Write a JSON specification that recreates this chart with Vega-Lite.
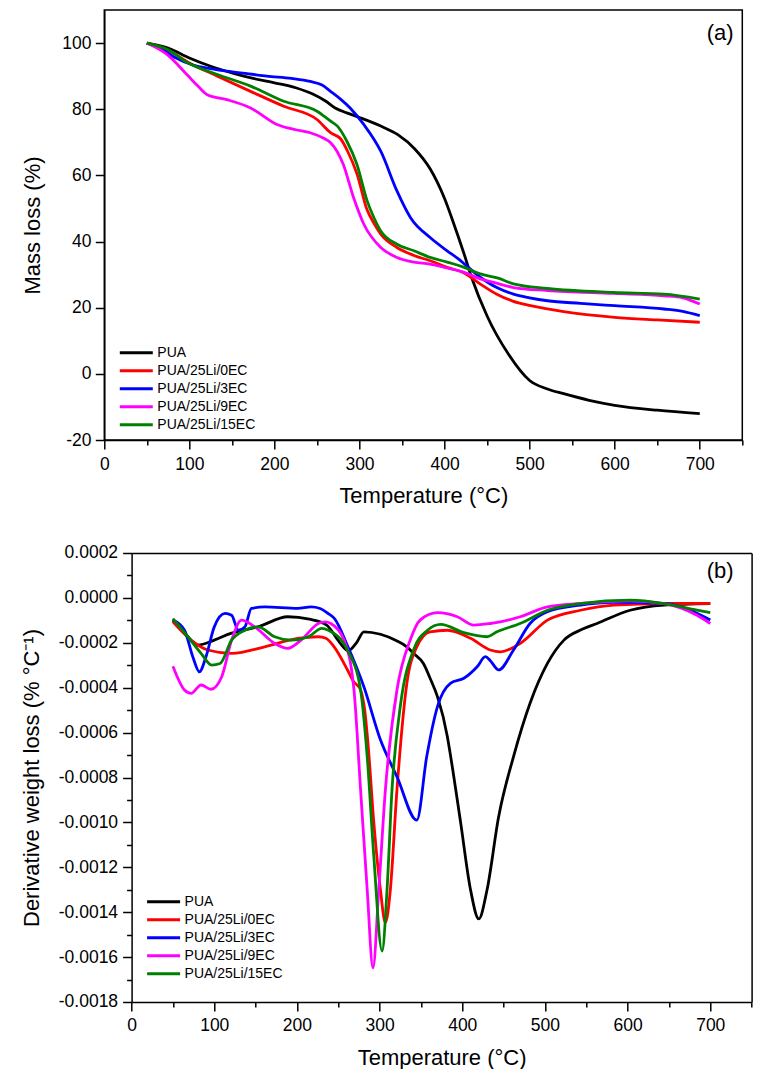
{
"$schema": "https://vega.github.io/schema/vega-lite/v6.json",
"background": "white",
"padding": {"left": 19.3, "top": 9, "right": 8, "bottom": 0},
"config": {
  "font": "Liberation Sans",
  "view": {"stroke": "#000", "strokeWidth": 1.5},
  "axis": {"grid": false, "domainColor": "#000", "domainWidth": 1.5, "tickColor": "#000", "tickWidth": 1.5, "labelColor": "#000", "titleColor": "#000", "labelFontSize": 17.5, "titleFontSize": 22, "titleFontWeight": "normal", "labelFont": "Liberation Sans", "titleFont": "Liberation Sans", "labelOverlap": false, "labelFlush": false}
},
"datasets": {
"tga": [
{"s":"PUA","T":50,"m":100},{"s":"PUA","T":75,"m":98.5},{"s":"PUA","T":100,"m":95.5},{"s":"PUA","T":125,"m":93},{"s":"PUA","T":150,"m":91},{"s":"PUA","T":175,"m":89.3},{"s":"PUA","T":200,"m":88},{"s":"PUA","T":225,"m":86.5},{"s":"PUA","T":245,"m":84.6},{"s":"PUA","T":260,"m":82.5},{"s":"PUA","T":272,"m":80.3},{"s":"PUA","T":285,"m":78.9},{"s":"PUA","T":300,"m":77.5},{"s":"PUA","T":325,"m":74.9},{"s":"PUA","T":345,"m":72.3},{"s":"PUA","T":365,"m":68},{"s":"PUA","T":383,"m":62},{"s":"PUA","T":400,"m":53},{"s":"PUA","T":410,"m":46},{"s":"PUA","T":422,"m":37},{"s":"PUA","T":432,"m":29},{"s":"PUA","T":450,"m":17.5},{"s":"PUA","T":475,"m":6},{"s":"PUA","T":500,"m":-2},{"s":"PUA","T":520,"m":-4.5},{"s":"PUA","T":540,"m":-6},{"s":"PUA","T":570,"m":-8},{"s":"PUA","T":600,"m":-9.5},{"s":"PUA","T":650,"m":-11},{"s":"PUA","T":700,"m":-12},
{"s":"PUA/25Li/0EC","T":50,"m":100},{"s":"PUA/25Li/0EC","T":75,"m":97.8},{"s":"PUA/25Li/0EC","T":100,"m":94},{"s":"PUA/25Li/0EC","T":133,"m":90},{"s":"PUA/25Li/0EC","T":172,"m":85.4},{"s":"PUA/25Li/0EC","T":211,"m":80.9},{"s":"PUA/25Li/0EC","T":250,"m":76.9},{"s":"PUA/25Li/0EC","T":266,"m":72.9},{"s":"PUA/25Li/0EC","T":278,"m":71},{"s":"PUA/25Li/0EC","T":286,"m":67.3},{"s":"PUA/25Li/0EC","T":297,"m":60.5},{"s":"PUA/25Li/0EC","T":309,"m":49.5},{"s":"PUA/25Li/0EC","T":317,"m":45.5},{"s":"PUA/25Li/0EC","T":325,"m":42.2},{"s":"PUA/25Li/0EC","T":344,"m":38.2},{"s":"PUA/25Li/0EC","T":364,"m":35.8},{"s":"PUA/25Li/0EC","T":383,"m":34.2},{"s":"PUA/25Li/0EC","T":403,"m":32.2},{"s":"PUA/25Li/0EC","T":423,"m":30.5},{"s":"PUA/25Li/0EC","T":440,"m":27.5},{"s":"PUA/25Li/0EC","T":462,"m":24},{"s":"PUA/25Li/0EC","T":480,"m":22},{"s":"PUA/25Li/0EC","T":501,"m":20.6},{"s":"PUA/25Li/0EC","T":540,"m":18.8},{"s":"PUA/25Li/0EC","T":600,"m":17.1},{"s":"PUA/25Li/0EC","T":650,"m":16.3},{"s":"PUA/25Li/0EC","T":700,"m":15.6},
{"s":"PUA/25Li/3EC","T":50,"m":100},{"s":"PUA/25Li/3EC","T":65,"m":98.5},{"s":"PUA/25Li/3EC","T":82,"m":95.8},{"s":"PUA/25Li/3EC","T":105,"m":93.3},{"s":"PUA/25Li/3EC","T":125,"m":92.3},{"s":"PUA/25Li/3EC","T":144,"m":91.5},{"s":"PUA/25Li/3EC","T":170,"m":90.7},{"s":"PUA/25Li/3EC","T":191,"m":90},{"s":"PUA/25Li/3EC","T":220,"m":89.3},{"s":"PUA/25Li/3EC","T":242,"m":88.4},{"s":"PUA/25Li/3EC","T":256,"m":87.3},{"s":"PUA/25Li/3EC","T":266,"m":85.4},{"s":"PUA/25Li/3EC","T":278,"m":83},{"s":"PUA/25Li/3EC","T":289,"m":80.4},{"s":"PUA/25Li/3EC","T":305,"m":75.4},{"s":"PUA/25Li/3EC","T":325,"m":67.3},{"s":"PUA/25Li/3EC","T":344,"m":55.3},{"s":"PUA/25Li/3EC","T":360,"m":47.2},{"s":"PUA/25Li/3EC","T":383,"m":41.2},{"s":"PUA/25Li/3EC","T":403,"m":37.2},{"s":"PUA/25Li/3EC","T":415,"m":35},{"s":"PUA/25Li/3EC","T":442,"m":29.2},{"s":"PUA/25Li/3EC","T":462,"m":26},{"s":"PUA/25Li/3EC","T":481,"m":24.1},{"s":"PUA/25Li/3EC","T":500,"m":23},{"s":"PUA/25Li/3EC","T":521,"m":22.1},{"s":"PUA/25Li/3EC","T":560,"m":21.3},{"s":"PUA/25Li/3EC","T":600,"m":20.6},{"s":"PUA/25Li/3EC","T":658,"m":19.6},{"s":"PUA/25Li/3EC","T":680,"m":18.9},{"s":"PUA/25Li/3EC","T":700,"m":17.6},
{"s":"PUA/25Li/9EC","T":50,"m":100},{"s":"PUA/25Li/9EC","T":74,"m":96.5},{"s":"PUA/25Li/9EC","T":97,"m":90.5},{"s":"PUA/25Li/9EC","T":110,"m":87},{"s":"PUA/25Li/9EC","T":121,"m":84.4},{"s":"PUA/25Li/9EC","T":144,"m":82.9},{"s":"PUA/25Li/9EC","T":172,"m":80.4},{"s":"PUA/25Li/9EC","T":203,"m":75.4},{"s":"PUA/25Li/9EC","T":225,"m":73.8},{"s":"PUA/25Li/9EC","T":242,"m":72.9},{"s":"PUA/25Li/9EC","T":258,"m":71.2},{"s":"PUA/25Li/9EC","T":266,"m":69.9},{"s":"PUA/25Li/9EC","T":281,"m":63.3},{"s":"PUA/25Li/9EC","T":293,"m":53.3},{"s":"PUA/25Li/9EC","T":305,"m":45.3},{"s":"PUA/25Li/9EC","T":325,"m":38.2},{"s":"PUA/25Li/9EC","T":344,"m":35.2},{"s":"PUA/25Li/9EC","T":364,"m":33.8},{"s":"PUA/25Li/9EC","T":383,"m":33.2},{"s":"PUA/25Li/9EC","T":403,"m":32},{"s":"PUA/25Li/9EC","T":423,"m":30.7},{"s":"PUA/25Li/9EC","T":442,"m":28.7},{"s":"PUA/25Li/9EC","T":460,"m":27.5},{"s":"PUA/25Li/9EC","T":481,"m":26.1},{"s":"PUA/25Li/9EC","T":521,"m":25.2},{"s":"PUA/25Li/9EC","T":599,"m":24.3},{"s":"PUA/25Li/9EC","T":658,"m":23.6},{"s":"PUA/25Li/9EC","T":680,"m":23},{"s":"PUA/25Li/9EC","T":700,"m":21.1},
{"s":"PUA/25Li/15EC","T":50,"m":100},{"s":"PUA/25Li/15EC","T":75,"m":98},{"s":"PUA/25Li/15EC","T":97,"m":94.2},{"s":"PUA/25Li/15EC","T":133,"m":90.5},{"s":"PUA/25Li/15EC","T":172,"m":87},{"s":"PUA/25Li/15EC","T":211,"m":82.4},{"s":"PUA/25Li/15EC","T":250,"m":79.4},{"s":"PUA/25Li/15EC","T":266,"m":76.4},{"s":"PUA/25Li/15EC","T":274,"m":74.9},{"s":"PUA/25Li/15EC","T":285,"m":70.4},{"s":"PUA/25Li/15EC","T":297,"m":63.3},{"s":"PUA/25Li/15EC","T":309,"m":52.3},{"s":"PUA/25Li/15EC","T":317,"m":47.2},{"s":"PUA/25Li/15EC","T":325,"m":43.2},{"s":"PUA/25Li/15EC","T":344,"m":39.2},{"s":"PUA/25Li/15EC","T":364,"m":37.2},{"s":"PUA/25Li/15EC","T":383,"m":35.2},{"s":"PUA/25Li/15EC","T":403,"m":33.8},{"s":"PUA/25Li/15EC","T":423,"m":32.2},{"s":"PUA/25Li/15EC","T":442,"m":30.2},{"s":"PUA/25Li/15EC","T":462,"m":29},{"s":"PUA/25Li/15EC","T":481,"m":27.2},{"s":"PUA/25Li/15EC","T":521,"m":25.8},{"s":"PUA/25Li/15EC","T":599,"m":24.6},{"s":"PUA/25Li/15EC","T":658,"m":24.1},{"s":"PUA/25Li/15EC","T":700,"m":22.6}
],
"dtg": [
{"s":"PUA","T":50,"d":-0.000099},{"s":"PUA","T":65,"d":-0.00016},{"s":"PUA","T":80,"d":-0.00021},{"s":"PUA","T":100,"d":-0.000188},{"s":"PUA","T":120,"d":-0.000158},{"s":"PUA","T":153,"d":-0.000129},{"s":"PUA","T":189,"d":-0.000084},{"s":"PUA","T":215,"d":-0.000095},{"s":"PUA","T":236,"d":-0.000121},{"s":"PUA","T":250,"d":-0.00019},{"s":"PUA","T":262,"d":-0.000235},{"s":"PUA","T":272,"d":-0.0002},{"s":"PUA","T":281,"d":-0.000151},{"s":"PUA","T":301,"d":-0.000162},{"s":"PUA","T":320,"d":-0.00019},{"s":"PUA","T":333,"d":-0.000218},{"s":"PUA","T":341,"d":-0.000247},{"s":"PUA","T":353,"d":-0.000292},{"s":"PUA","T":362,"d":-0.000366},{"s":"PUA","T":370,"d":-0.00044},{"s":"PUA","T":382,"d":-0.000618},{"s":"PUA","T":386,"d":-0.000707},{"s":"PUA","T":398,"d":-0.001},{"s":"PUA","T":410,"d":-0.0013},{"s":"PUA","T":420,"d":-0.00143},{"s":"PUA","T":430,"d":-0.0013},{"s":"PUA","T":444,"d":-0.000975},{"s":"PUA","T":462,"d":-0.000707},{"s":"PUA","T":482,"d":-0.000469},{"s":"PUA","T":503,"d":-0.000292},{"s":"PUA","T":523,"d":-0.000188},{"s":"PUA","T":545,"d":-0.00014},{"s":"PUA","T":563,"d":-0.000114},{"s":"PUA","T":603,"d":-0.000055},{"s":"PUA","T":644,"d":-0.000032},{"s":"PUA","T":700,"d":-0.000025},
{"s":"PUA/25Li/0EC","T":50,"d":-0.000107},{"s":"PUA/25Li/0EC","T":72,"d":-0.000188},{"s":"PUA/25Li/0EC","T":92,"d":-0.000232},{"s":"PUA/25Li/0EC","T":121,"d":-0.000247},{"s":"PUA/25Li/0EC","T":161,"d":-0.000218},{"s":"PUA/25Li/0EC","T":201,"d":-0.00018},{"s":"PUA/25Li/0EC","T":226,"d":-0.000173},{"s":"PUA/25Li/0EC","T":235,"d":-0.00018},{"s":"PUA/25Li/0EC","T":245,"d":-0.000218},{"s":"PUA/25Li/0EC","T":261,"d":-0.00032},{"s":"PUA/25Li/0EC","T":268,"d":-0.00037},{"s":"PUA/25Li/0EC","T":277,"d":-0.00041},{"s":"PUA/25Li/0EC","T":282,"d":-0.0005},{"s":"PUA/25Li/0EC","T":286,"d":-0.00065},{"s":"PUA/25Li/0EC","T":293,"d":-0.001},{"s":"PUA/25Li/0EC","T":301,"d":-0.0013},{"s":"PUA/25Li/0EC","T":307,"d":-0.001447},{"s":"PUA/25Li/0EC","T":313,"d":-0.0013},{"s":"PUA/25Li/0EC","T":321,"d":-0.000855},{"s":"PUA/25Li/0EC","T":333,"d":-0.00038},{"s":"PUA/25Li/0EC","T":345,"d":-0.000218},{"s":"PUA/25Li/0EC","T":361,"d":-0.000151},{"s":"PUA/25Li/0EC","T":382,"d":-0.000144},{"s":"PUA/25Li/0EC","T":410,"d":-0.00018},{"s":"PUA/25Li/0EC","T":434,"d":-0.000232},{"s":"PUA/25Li/0EC","T":446,"d":-0.00024},{"s":"PUA/25Li/0EC","T":470,"d":-0.000203},{"s":"PUA/25Li/0EC","T":503,"d":-0.000099},{"s":"PUA/25Li/0EC","T":543,"d":-0.000055},{"s":"PUA/25Li/0EC","T":583,"d":-0.000032},{"s":"PUA/25Li/0EC","T":644,"d":-0.000025},{"s":"PUA/25Li/0EC","T":700,"d":-0.000025},
{"s":"PUA/25Li/3EC","T":50,"d":-0.000099},{"s":"PUA/25Li/3EC","T":64,"d":-0.000144},{"s":"PUA/25Li/3EC","T":74,"d":-0.000262},{"s":"PUA/25Li/3EC","T":82,"d":-0.000329},{"s":"PUA/25Li/3EC","T":90,"d":-0.000262},{"s":"PUA/25Li/3EC","T":100,"d":-0.000129},{"s":"PUA/25Li/3EC","T":113,"d":-0.000069},{"s":"PUA/25Li/3EC","T":121,"d":-0.000077},{"s":"PUA/25Li/3EC","T":129,"d":-0.000144},{"s":"PUA/25Li/3EC","T":137,"d":-0.000129},{"s":"PUA/25Li/3EC","T":145,"d":-0.000047},{"s":"PUA/25Li/3EC","T":161,"d":-0.00004},{"s":"PUA/25Li/3EC","T":201,"d":-0.000047},{"s":"PUA/25Li/3EC","T":217,"d":-0.00004},{"s":"PUA/25Li/3EC","T":228,"d":-0.000047},{"s":"PUA/25Li/3EC","T":238,"d":-0.00007},{"s":"PUA/25Li/3EC","T":245,"d":-0.00009},{"s":"PUA/25Li/3EC","T":262,"d":-0.00022},{"s":"PUA/25Li/3EC","T":281,"d":-0.000396},{"s":"PUA/25Li/3EC","T":301,"d":-0.000632},{"s":"PUA/25Li/3EC","T":321,"d":-0.000796},{"s":"PUA/25Li/3EC","T":345,"d":-0.00099},{"s":"PUA/25Li/3EC","T":357,"d":-0.000707},{"s":"PUA/25Li/3EC","T":370,"d":-0.000484},{"s":"PUA/25Li/3EC","T":386,"d":-0.00038},{"s":"PUA/25Li/3EC","T":402,"d":-0.000358},{"s":"PUA/25Li/3EC","T":418,"d":-0.000307},{"s":"PUA/25Li/3EC","T":428,"d":-0.000262},{"s":"PUA/25Li/3EC","T":434,"d":-0.00028},{"s":"PUA/25Li/3EC","T":444,"d":-0.000321},{"s":"PUA/25Li/3EC","T":462,"d":-0.000232},{"s":"PUA/25Li/3EC","T":482,"d":-0.000114},{"s":"PUA/25Li/3EC","T":503,"d":-0.000062},{"s":"PUA/25Li/3EC","T":543,"d":-0.000032},{"s":"PUA/25Li/3EC","T":583,"d":-0.00002},{"s":"PUA/25Li/3EC","T":644,"d":-0.000025},{"s":"PUA/25Li/3EC","T":684,"d":-0.000069},{"s":"PUA/25Li/3EC","T":700,"d":-0.000099},
{"s":"PUA/25Li/9EC","T":50,"d":-0.000304},{"s":"PUA/25Li/9EC","T":64,"d":-0.00041},{"s":"PUA/25Li/9EC","T":72,"d":-0.000425},{"s":"PUA/25Li/9EC","T":84,"d":-0.000388},{"s":"PUA/25Li/9EC","T":96,"d":-0.000407},{"s":"PUA/25Li/9EC","T":109,"d":-0.000351},{"s":"PUA/25Li/9EC","T":121,"d":-0.000188},{"s":"PUA/25Li/9EC","T":133,"d":-0.000099},{"s":"PUA/25Li/9EC","T":149,"d":-0.000129},{"s":"PUA/25Li/9EC","T":173,"d":-0.000203},{"s":"PUA/25Li/9EC","T":189,"d":-0.000225},{"s":"PUA/25Li/9EC","T":205,"d":-0.000188},{"s":"PUA/25Li/9EC","T":226,"d":-0.000114},{"s":"PUA/25Li/9EC","T":234,"d":-0.000107},{"s":"PUA/25Li/9EC","T":241,"d":-0.000114},{"s":"PUA/25Li/9EC","T":257,"d":-0.000188},{"s":"PUA/25Li/9EC","T":269,"d":-0.00041},{"s":"PUA/25Li/9EC","T":277,"d":-0.000855},{"s":"PUA/25Li/9EC","T":285,"d":-0.0013},{"s":"PUA/25Li/9EC","T":292,"d":-0.001647},{"s":"PUA/25Li/9EC","T":299,"d":-0.0013},{"s":"PUA/25Li/9EC","T":307,"d":-0.000855},{"s":"PUA/25Li/9EC","T":321,"d":-0.00041},{"s":"PUA/25Li/9EC","T":337,"d":-0.000188},{"s":"PUA/25Li/9EC","T":349,"d":-0.000099},{"s":"PUA/25Li/9EC","T":370,"d":-0.000066},{"s":"PUA/25Li/9EC","T":394,"d":-0.000084},{"s":"PUA/25Li/9EC","T":414,"d":-0.000121},{"s":"PUA/25Li/9EC","T":434,"d":-0.000114},{"s":"PUA/25Li/9EC","T":446,"d":-0.000107},{"s":"PUA/25Li/9EC","T":470,"d":-0.000084},{"s":"PUA/25Li/9EC","T":503,"d":-0.00004},{"s":"PUA/25Li/9EC","T":543,"d":-0.000025},{"s":"PUA/25Li/9EC","T":603,"d":-0.000013},{"s":"PUA/25Li/9EC","T":644,"d":-0.000025},{"s":"PUA/25Li/9EC","T":684,"d":-0.000077},{"s":"PUA/25Li/9EC","T":700,"d":-0.000114},
{"s":"PUA/25Li/15EC","T":50,"d":-0.000092},{"s":"PUA/25Li/15EC","T":68,"d":-0.000173},{"s":"PUA/25Li/15EC","T":84,"d":-0.000247},{"s":"PUA/25Li/15EC","T":97,"d":-0.000299},{"s":"PUA/25Li/15EC","T":107,"d":-0.000292},{"s":"PUA/25Li/15EC","T":121,"d":-0.000188},{"s":"PUA/25Li/15EC","T":137,"d":-0.000144},{"s":"PUA/25Li/15EC","T":153,"d":-0.000129},{"s":"PUA/25Li/15EC","T":173,"d":-0.000173},{"s":"PUA/25Li/15EC","T":193,"d":-0.000188},{"s":"PUA/25Li/15EC","T":214,"d":-0.000173},{"s":"PUA/25Li/15EC","T":230,"d":-0.000136},{"s":"PUA/25Li/15EC","T":238,"d":-0.000144},{"s":"PUA/25Li/15EC","T":261,"d":-0.000232},{"s":"PUA/25Li/15EC","T":277,"d":-0.00041},{"s":"PUA/25Li/15EC","T":285,"d":-0.000707},{"s":"PUA/25Li/15EC","T":293,"d":-0.001151},{"s":"PUA/25Li/15EC","T":303,"d":-0.001573},{"s":"PUA/25Li/15EC","T":309,"d":-0.0013},{"s":"PUA/25Li/15EC","T":315,"d":-0.000855},{"s":"PUA/25Li/15EC","T":325,"d":-0.000484},{"s":"PUA/25Li/15EC","T":341,"d":-0.000232},{"s":"PUA/25Li/15EC","T":358,"d":-0.000144},{"s":"PUA/25Li/15EC","T":374,"d":-0.000118},{"s":"PUA/25Li/15EC","T":402,"d":-0.000155},{"s":"PUA/25Li/15EC","T":430,"d":-0.000173},{"s":"PUA/25Li/15EC","T":442,"d":-0.000151},{"s":"PUA/25Li/15EC","T":470,"d":-0.000114},{"s":"PUA/25Li/15EC","T":503,"d":-0.000055},{"s":"PUA/25Li/15EC","T":543,"d":-0.000025},{"s":"PUA/25Li/15EC","T":603,"d":-0.00001},{"s":"PUA/25Li/15EC","T":644,"d":-0.000025},{"s":"PUA/25Li/15EC","T":684,"d":-0.000055},{"s":"PUA/25Li/15EC","T":700,"d":-0.000066}
]
},
"spacing": 36,
"resolve": {"scale": {"color": "independent"}, "legend": {"color": "independent"}},
"vconcat": [
{
  "width": 638, "height": 430,
  "layer": [
    {
      "data": {"name": "tga"},
      "mark": {"type": "line", "strokeWidth": 2.8, "interpolate": "monotone"},
      "encoding": {
        "x": {"field": "T", "type": "quantitative", "scale": {"domain": [0, 750], "nice": false, "zero": false},
              "axis": {"title": "Temperature (°C)", "values": [0,50,100,150,200,250,300,350,400,450,500,550,600,650,700,750],
                       "labelExpr": "datum.value % 100 === 0 ? datum.label : ''",
                       "tickSize": {"condition": {"test": "datum.value % 100 === 0", "value": 9}, "value": 5},
                       "labelPadding": 6, "titlePadding": 13.4}},
        "y": {"field": "m", "type": "quantitative", "scale": {"domain": [-20, 110], "nice": false, "zero": false},
              "axis": {"title": "Mass loss (%)", "values": [-20,-10,0,10,20,30,40,50,60,70,80,90,100],
                       "labelExpr": "datum.value % 20 === 0 ? replace(datum.label, '\u2212', '-') : ''",
                       "tickSize": {"condition": {"test": "datum.value % 20 === 0", "value": 9}, "value": 5},
                       "labelPadding": 4.3, "titlePadding": 17.6}},
        "color": {"field": "s", "type": "nominal",
                  "scale": {"domain": ["PUA","PUA/25Li/0EC","PUA/25Li/3EC","PUA/25Li/9EC","PUA/25Li/15EC"], "range": ["#000000","#ff0000","#0000ff","#ff00ff","#008000"]},
                  "legend": {"orient": "none", "legendX": 14, "legendY": 334, "title": null, "symbolType": "stroke", "symbolSize": 1089, "symbolStrokeWidth": 3, "labelFontSize": 14, "labelOffset": 3, "clipHeight": 17.5, "rowPadding": 0, "padding": 0, "labelColor": "#000", "labelFont": "Liberation Sans"}}
      }
    },
    {
      "data": {"values": [{"label": "(a)"}]},
      "mark": {"type": "text", "fontSize": 22, "font": "Liberation Sans", "align": "center", "baseline": "middle", "color": "#000"},
      "encoding": {
        "x": {"datum": 724, "type": "quantitative"},
        "y": {"datum": 103, "type": "quantitative"},
        "text": {"field": "label"}
      }
    }
  ]
},
{
  "width": 647.3, "height": 449,
  "view": {"stroke": null},
  "resolve": {"axis": {"x": "independent", "y": "independent"}},
  "layer": [
    {
      "data": {"name": "dtg"},
      "mark": {"type": "line", "strokeWidth": 2.8, "interpolate": "monotone"},
      "encoding": {
        "x": {"field": "T", "type": "quantitative", "scale": {"domain": [0, 750], "range": [27.3, 647.3], "nice": false, "zero": false},
              "axis": {"title": "Temperature (°C)", "values": [0,50,100,150,200,250,300,350,400,450,500,550,600,650,700,750],
                       "labelExpr": "datum.value % 100 === 0 ? datum.label : ''",
                       "tickSize": {"condition": {"test": "datum.value % 100 === 0", "value": 9}, "value": 5},
                       "labelPadding": 6, "titlePadding": 13.4}},
        "y": {"field": "d", "type": "quantitative", "scale": {"domain": [-0.0018, 0.0002], "nice": false, "zero": false},
              "axis": {"title": "Derivative weight loss (% °C⁻¹)", "offset": -27.3, "values": [-0.0018,-0.0017,-0.0016,-0.0015,-0.0014,-0.0013,-0.0012,-0.0011,-0.001,-0.0009,-0.0008,-0.0007,-0.0006,-0.0005,-0.0004,-0.0003,-0.0002,-0.0001,0,0.0001,0.0002],
                       "labelExpr": "abs(round(datum.value * 10000)) % 2 === 0 ? replace(format(datum.value, '.4f'), '\u2212', '-') : ''",
                       "tickSize": {"condition": {"test": "abs(round(datum.value * 10000)) % 2 === 0", "value": 9}, "value": 5},
                       "labelPadding": 5, "titlePadding": 15}},
        "color": {"field": "s", "type": "nominal",
                  "scale": {"domain": ["PUA","PUA/25Li/0EC","PUA/25Li/3EC","PUA/25Li/9EC","PUA/25Li/15EC"], "range": ["#000000","#ff0000","#0000ff","#ff00ff","#008000"]},
                  "legend": {"orient": "none", "legendX": 41.3, "legendY": 340, "title": null, "symbolType": "stroke", "symbolSize": 1089, "symbolStrokeWidth": 3, "labelFontSize": 14, "labelOffset": 3, "clipHeight": 17.5, "rowPadding": 0, "padding": 0, "labelColor": "#000", "labelFont": "Liberation Sans"}}
      }
    },
    {
      "data": {"values": [{"label": "(b)"}]},
      "mark": {"type": "text", "fontSize": 22, "font": "Liberation Sans", "align": "center", "baseline": "middle", "color": "#000"},
      "encoding": {
        "x": {"datum": 712, "type": "quantitative", "axis": {"orient": "top", "title": null, "labels": false, "ticks": false, "domain": true}},
        "y": {"datum": 0.00012, "type": "quantitative", "axis": {"orient": "right", "title": null, "labels": false, "ticks": false, "domain": true}},
        "text": {"field": "label"}
      }
    }
  ]
}
]
}
